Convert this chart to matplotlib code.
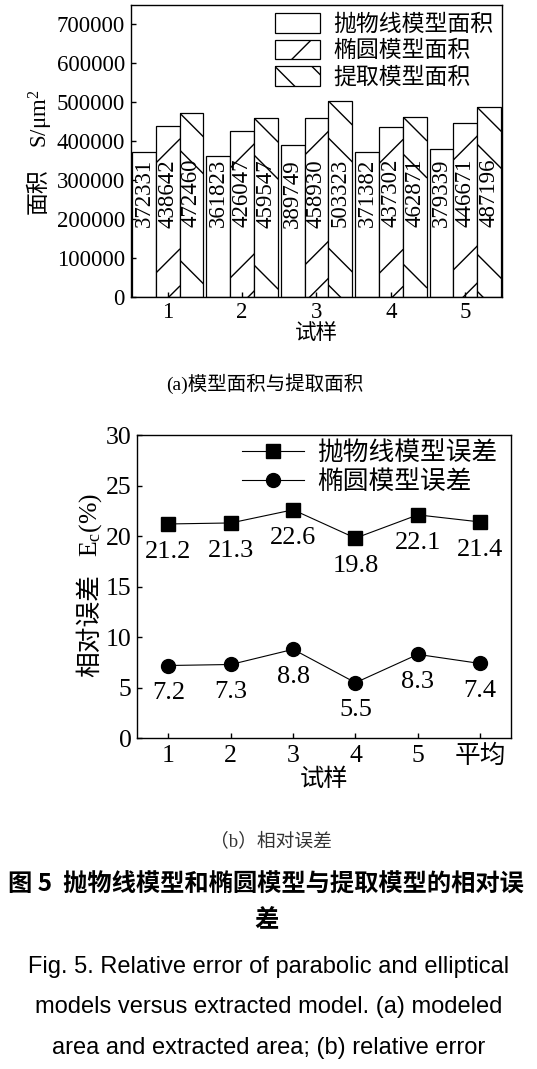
import matplotlib
matplotlib.use("Agg")
import matplotlib.pyplot as plt
from matplotlib.lines import Line2D
from matplotlib.transforms import IdentityTransform
import numpy as np

# ---------------- data ----------------
samples_a = ['1', '2', '3', '4', '5']
parabolic_area = [372331, 361823, 389749, 371382, 379339]
ellipse_area = [438642, 426047, 458930, 437302, 446671]
extracted_area = [472460, 459547, 503323, 462871, 487196]
area_series = ['抛物线模型面积', '椭圆模型面积', '提取模型面积']
yticks_a = [0, 100000, 200000, 300000, 400000, 500000, 600000, 700000]

samples_b = ['1', '2', '3', '4', '5', '平均']
parabolic_err = [21.2, 21.3, 22.6, 19.8, 22.1, 21.4]
ellipse_err = [7.2, 7.3, 8.8, 5.5, 8.3, 7.4]
err_series = ['抛物线模型误差', '椭圆模型误差']
yticks_b = [0, 5, 10, 15, 20, 25, 30]

# ---------------- style ----------------
plt.rcParams['font.family'] = ['Liberation Serif', 'Noto Sans CJK SC']
plt.rcParams['mathtext.fontset'] = 'custom'
plt.rcParams['mathtext.rm'] = 'Liberation Serif'
plt.rcParams['mathtext.it'] = 'Liberation Serif:italic'
plt.rcParams['axes.linewidth'] = 1.0

W, H = 537, 1069
fig = plt.figure(figsize=(W / 100, H / 100), dpi=100)

HATCH_OFFSETS = [-37, 0, 37, 147, 184, 294, 331]
BAR_W = 0.32
LABEL_Y = 266000

# ---------------- (a) bar chart ----------------
ax1 = fig.add_axes([130.5 / W, 1 - 296.7 / H, 371.9 / W, 291.7 / H])
x = np.arange(1, len(samples_a) + 1)
bars_p = ax1.bar(x - BAR_W, parabolic_area, BAR_W, color='white', edgecolor='black', lw=0.9, label=area_series[0])
bars_e = ax1.bar(x, ellipse_area, BAR_W, color='white', edgecolor='black', lw=0.9, label=area_series[1])
bars_x = ax1.bar(x + BAR_W, extracted_area, BAR_W, color='white', edgecolor='black', lw=0.9, label=area_series[2])
for vals, dx in [(parabolic_area, -BAR_W), (ellipse_area, 0), (extracted_area, BAR_W)]:
    for xi, v in zip(x, vals):
        ax1.text(xi + dx, LABEL_Y, str(v), rotation=90, ha='center', va='center', fontsize=16.5)
ax1.set_xlim(0.5, 5.5)
ax1.set_ylim(0, 750000)
ax1.set_xticks(x)
ax1.set_xticklabels(samples_a)
ax1.set_yticks(yticks_a)
ax1.tick_params(axis='both', direction='in', length=3.5, labelsize=16.5, width=1.0)
ax1.tick_params(axis='y', pad=4)
ax1.tick_params(axis='x', pad=4)
ax1.set_xlabel('试样', fontsize=15.5, va='center')
ax1.xaxis.set_label_coords(0.5, -0.127)
leg1 = ax1.legend(loc='upper right', bbox_to_anchor=(0.975, 0.972), frameon=False,
                  fontsize=16.5, handlelength=2.0, handleheight=0.95, handletextpad=0.55,
                  labelspacing=0.16, borderpad=0, borderaxespad=0)
# y-axis title (CJK part and math part)
fig.text(39.4 / W, 1 - 214 / H, '面积', rotation=90, ha='center', va='bottom', fontsize=16.5)
fig.text(40.5 / W, 1 - 90 / H, 'S/μm$^2$', rotation=90, ha='center', va='top', fontsize=16.5)

# ---------------- (b) line chart ----------------
ax2 = fig.add_axes([137.3 / W, 1 - 738.3 / H, 374.0 / W, 303.3 / H])
xb = np.arange(1, len(samples_b) + 1)
ax2.plot(xb, parabolic_err, '-', color='black', lw=0.8, marker='s', ms=10, label=err_series[0])
ax2.plot(xb, ellipse_err, '-', color='black', lw=0.8, marker='o', ms=10, label=err_series[1])
for xi, v in zip(xb, parabolic_err):
    ax2.annotate(f'{v}', (xi, v), xytext=(0, -20), textcoords='offset points', ha='center', va='center', fontsize=19)
for xi, v in zip(xb, ellipse_err):
    ax2.annotate(f'{v}', (xi, v), xytext=(0, -20), textcoords='offset points', ha='center', va='center', fontsize=19)
ax2.set_xlim(0.5, 6.5)
ax2.set_ylim(0, 30)
ax2.set_xticks(xb)
ax2.set_xticklabels(samples_b)
ax2.set_yticks(yticks_b)
ax2.tick_params(axis='both', direction='in', length=3.5, labelsize=18.5, width=1.0)
ax2.tick_params(axis='y', pad=4)
ax2.tick_params(axis='x', pad=4.5)
ax2.set_xlabel('试样', fontsize=17.5, va='center')
ax2.xaxis.set_label_coords(0.5, -0.135)
leg2 = ax2.legend(loc='upper right', bbox_to_anchor=(0.962, 0.98), frameon=False,
                  fontsize=18.5, handlelength=2.4, handletextpad=0.5,
                  labelspacing=0.22, borderpad=0, borderaxespad=0)
fig.text(90 / W, 1 - 677 / H, '相对误差', rotation=90, ha='center', va='bottom', fontsize=18.5)
fig.text(91 / W, 1 - 493 / H, 'E$_{\\mathrm{c}}$(%)', rotation=90, ha='center', va='top', fontsize=18.5)

# ---------------- captions ----------------
fig.text(265 / W, 1 - 383.3 / H, '(a)模型面积与提取面积', ha='center', va='center', fontsize=14)
fig.text(270.5 / W, 1 - 841.7 / H, '（b）相对误差', ha='center', va='center', fontsize=13.5, color='#333333')
cap_font = ['Noto Sans CJK SC', 'DejaVu Sans']
fig.text(266 / W, 1 - 885 / H, '图 5  抛物线模型和椭圆模型与提取模型的相对误', ha='center', va='center',
         fontsize=17.5, family=cap_font, fontweight='bold')
fig.text(266 / W, 1 - 920 / H, '差', ha='center', va='center', fontsize=17.5, family=cap_font, fontweight='bold')
en_font = ['Liberation Sans', 'DejaVu Sans']
fig.text(0.5, 1 - 966.7 / H, 'Fig. 5. Relative error of parabolic and elliptical', ha='center', va='center',
         fontsize=17, family=en_font)
fig.text(0.5, 1 - 1006.7 / H, 'models versus extracted model. (a) modeled', ha='center', va='center',
         fontsize=17, family=en_font)
fig.text(0.5, 1 - 1048.3 / H, 'area and extracted area; (b) relative error', ha='center', va='center',
         fontsize=17, family=en_font)

# ---------------- sparse hatching ----------------
fig.canvas.draw()
renderer = fig.canvas.get_renderer()


def add_hatch(patch, direction):
    bb = patch.get_window_extent(renderer)
    x0, x1, y1 = bb.x0, bb.x1, bb.y1
    w = x1 - x0
    for off in HATCH_OFFSETS:
        if direction == '/':
            ys = [y1 - off, y1 - off + w]
        else:
            ys = [y1 - off, y1 - off - w]
        ln = Line2D([x0, x1], ys, transform=IdentityTransform(), color='black', lw=1.0)
        ln.set_clip_path(patch)
        fig.add_artist(ln)


for p in bars_e.patches:
    add_hatch(p, '/')
for p in bars_x.patches:
    add_hatch(p, '\\')
lp = leg1.get_patches()
add_hatch(lp[1], '/')
add_hatch(lp[2], '\\')

fig.savefig('out.png', dpi=100)
